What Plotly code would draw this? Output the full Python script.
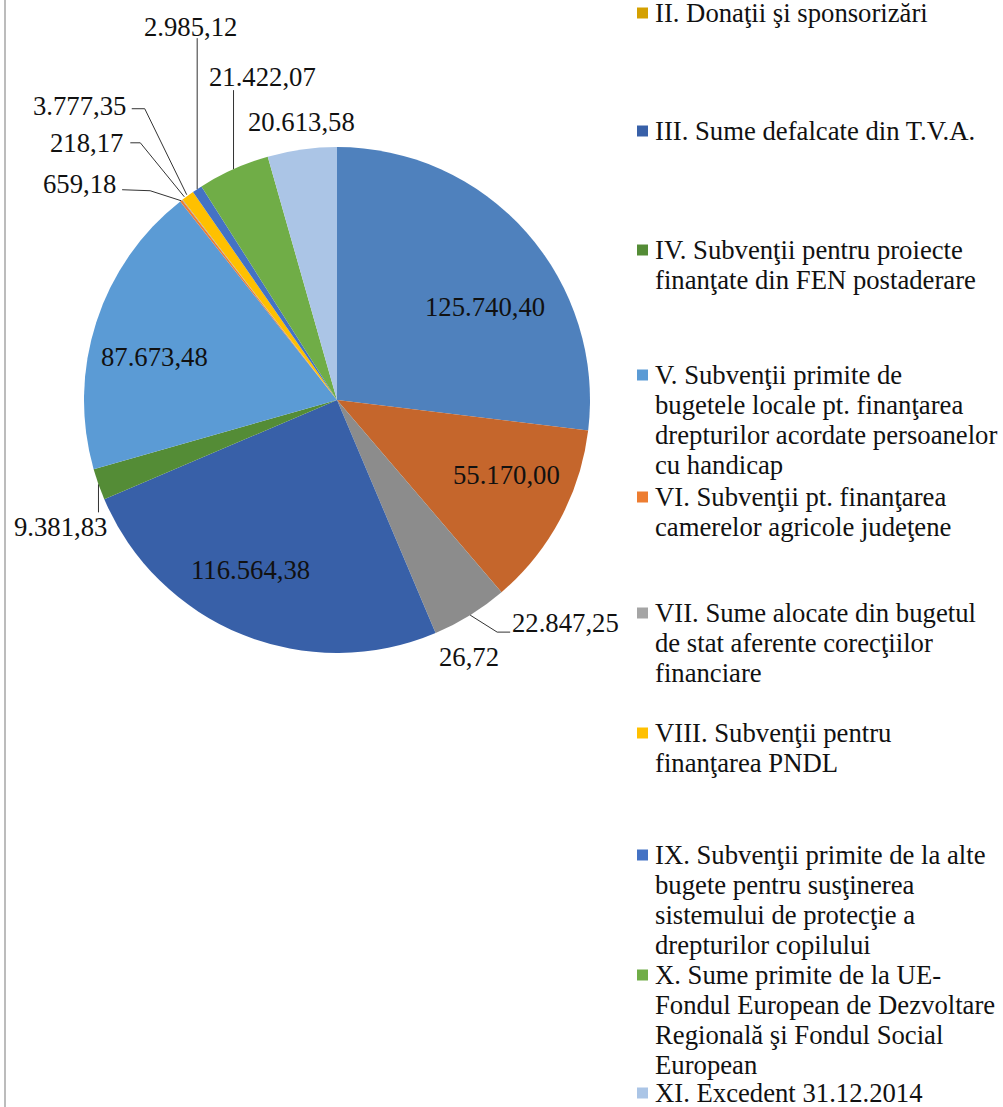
import math
import plotly.graph_objects as go

# ---------------- data ----------------
categories = [
    "I.1 Venituri proprii",
    "I.2 Cote defalcate din impozitul pe venit",
    "I.3 Sume alocate pentru echilibrare",
    "II. Donaţii şi sponsorizări",
    "III. Sume defalcate din T.V.A.",
    "IV. Subvenţii pentru proiecte<br>finanţate din FEN postaderare",
    "V. Subvenţii primite de<br>bugetele locale pt. finanţarea<br>drepturilor acordate persoanelor<br>cu handicap",
    "VI. Subvenţii pt. finanţarea<br>camerelor agricole judeţene",
    "VII. Sume alocate din bugetul<br>de stat aferente corecţiilor<br>financiare",
    "VIII. Subvenţii pentru<br>finanţarea PNDL",
    "IX. Subvenţii primite de la alte<br>bugete pentru susţinerea<br>sistemului de protecţie a<br>drepturilor copilului",
    "X. Sume primite de la UE-<br>Fondul European de Dezvoltare<br>Regională şi Fondul Social<br>European",
    "XI. Excedent 31.12.2014",
]
values = [125740.40, 55170.00, 22847.25, 26.72, 116564.38, 9381.83, 87673.48,
          659.18, 218.17, 3777.35, 2985.12, 21422.07, 20613.58]
value_labels = ["125.740,40", "55.170,00", "22.847,25", "26,72", "116.564,38",
                "9.381,83", "87.673,48", "659,18", "218,17", "3.777,35",
                "2.985,12", "21.422,07", "20.613,58"]

# ---------------- styles ----------------
colors = ["#4F81BD", "#C5662C", "#8C8C8C", "#D4A000", "#3860A8", "#548C36",
          "#5B9BD5", "#ED7D31", "#A5A5A5", "#FFC000", "#4472C4", "#70AD47",
          "#ABC5E6"]
W, H = 1003, 1107
CX, CY, R = 337, 400, 253          # pie centre / radius in pixels
FONT = "Liberation Serif, Times New Roman, Tinos, serif"
FS = 26.7
TXT = "#111111"
# label offset (dx, dy) from slice-edge anchor, xanchor, leader line polyline offsets
label_style = [
    ((-41, 75), "center", None),
    ((-54, -44), "center", None),
    ((40, 8), "left", [(0, 0), (27, 17), (40, 17)]),
    ((33, 24), "center", None),
    ((8, -65), "center", None),
    ((-38, 43), "center", [(0, 0), (0, 28)]),
    ((58, 35), "center", None),
    ((-63, -17), "right", [(0, 0), (-31, -10), (-59, -11)]),
    ((-57, -57), "right", [(2, -3), (-42, -57), (-52, -57)]),
    ((-60, -90), "right", [(-1, -1), (-43, -87), (-56, -87)]),
    ((-7, -162), "center", [(0, 0), (0, -151)]),
    ((29, -92), "center", [(0, 0), (0, -79)]),
    ((-1, -27), "center", None),
]
legend_first_y = [None, None, None, 13, 131, 250, 375, 497, 613, 733, 855, 975, 1093]
LEG_BOX_X, LEG_TXT_X, LEG_PITCH, BOX = 637, 653, 30, 11


def px(x):
    return x / W


def py(y):
    return 1 - y / H


fig = go.Figure()
fig.add_trace(go.Pie(
    labels=categories, values=values, sort=False, direction="clockwise",
    rotation=0, textinfo="none", hoverinfo="label+value",
    marker=dict(colors=colors, line=dict(width=0)),
    domain=dict(x=[px(CX - R), px(CX + R)], y=[py(CY + R), py(CY - R)]),
    showlegend=False,
))

annotations, shapes = [], []
total = sum(values)
cum = 0.0
for i, v in enumerate(values):
    mid = (cum + v / 2) / total * 2 * math.pi
    cum += v
    ex, ey = CX + R * math.sin(mid), CY - R * math.cos(mid)
    (dx, dy), anchor, line = label_style[i]
    annotations.append(dict(
        x=px(ex + dx), y=py(ey + dy), xref="paper", yref="paper",
        text=value_labels[i], showarrow=False, xanchor=anchor, yanchor="middle",
        font=dict(family=FONT, size=FS, color=TXT)))
    if line:
        path = " ".join(("M" if k == 0 else "L") + f" {px(ex + a)} {py(ey + b)}"
                        for k, (a, b) in enumerate(line))
        shapes.append(dict(type="path", path=path, xref="paper", yref="paper",
                           line=dict(color="#333333", width=1)))

# manual legend (top entries are cropped off the picture)
for i, name in enumerate(categories):
    y0 = legend_first_y[i]
    if y0 is None:
        continue
    shapes.append(dict(type="rect", xref="paper", yref="paper",
                       x0=px(LEG_BOX_X), x1=px(LEG_BOX_X + BOX),
                       y0=py(y0 - BOX / 2), y1=py(y0 + BOX / 2),
                       fillcolor=colors[i], line=dict(width=0)))
    for k, ln in enumerate(name.split("<br>")):
        annotations.append(dict(
            x=px(LEG_TXT_X), y=py(y0 + k * LEG_PITCH), xref="paper", yref="paper",
            text=ln, showarrow=False, xanchor="left", yanchor="middle",
            font=dict(family=FONT, size=FS, color=TXT)))

# chart-area border on the left
shapes.append(dict(type="line", xref="paper", yref="paper",
                   x0=px(5), x1=px(5), y0=0, y1=1,
                   line=dict(color="#A6A6A6", width=1.5)))

fig.update_layout(
    width=W, height=H, margin=dict(l=0, r=0, t=0, b=0),
    paper_bgcolor="white", plot_bgcolor="white",
    annotations=annotations, shapes=shapes,
)
fig.write_html("out.html", config={"displayModeBar": False},
               post_script="document.body.style.margin='0';document.body.style.overflow='hidden';")
